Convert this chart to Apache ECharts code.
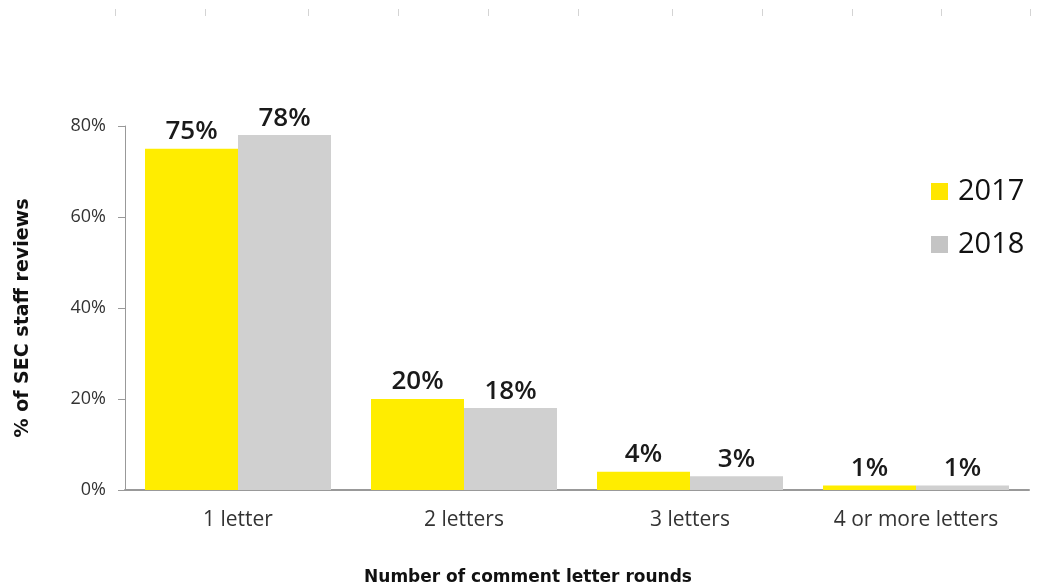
<!DOCTYPE html>
<html><head><meta charset="utf-8">
<script src="https://cdn.jsdelivr.net/npm/echarts@6/dist/echarts.min.js"></script>
<style>html,body{margin:0;padding:0;background:#fff}#c{width:1039px;height:588px}</style>
</head><body><div id="c"></div>
<script>
var categories = ['1 letter', '2 letters', '3 letters', '4 or more letters'];
var s2017 = [75, 20, 4, 1];
var s2018 = [78, 18, 3, 1];
var yTicks = [0, 20, 40, 60, 80];

var chart = echarts.init(document.getElementById('c'));
var labelStyle = {show: true, position: 'top', distance: 4, formatter: '{c}%',
  fontFamily: 'Open Sans', fontWeight: 600, fontSize: 26, color: '#1a1a1a'};
var topMarks = [115, 205, 308, 398, 488, 578, 672, 762, 852, 941, 1030].map(function (x) {
  return {type: 'line', shape: {x1: x + 0.5, y1: 9, x2: x + 0.5, y2: 16}, style: {stroke: '#d4d4d4', lineWidth: 1}, silent: true};
});
chart.setOption({
  animation: false,
  graphic: topMarks,
  grid: {left: 125, right: 10, top: 126, bottom: 98, containLabel: false, outerBoundsMode: 'none'},
  legend: {
    orient: 'vertical', left: 931, top: 177, padding: 0, itemWidth: 17, itemHeight: 17, itemGap: 24,
    icon: 'rect',
    textStyle: {fontFamily: 'Open Sans', fontSize: 29, color: '#111', padding: [0, 0, 0, 5]},
    data: [{name: '2017', itemStyle: {color: '#FFE600'}}, {name: '2018', itemStyle: {color: '#C4C4C4'}}]
  },
  xAxis: {
    type: 'category', data: categories,
    axisLine: {lineStyle: {color: '#999', width: 2}},
    axisTick: {show: false},
    axisLabel: {fontFamily: 'Open Sans', fontSize: 21, color: '#333', margin: 20},
    name: 'Number of comment letter rounds', nameLocation: 'middle', nameGap: 79,
    nameTextStyle: {fontFamily: 'DejaVu Sans', fontWeight: 'bold', fontSize: 17, color: '#111', padding: [0, 98, 0, 0]}
  },
  yAxis: {
    type: 'value', min: 0, max: 80, interval: 20,
    axisLine: {show: true, lineStyle: {color: '#999', width: 1}},
    axisTick: {show: true, length: 7, lineStyle: {color: '#999'}},
    splitLine: {show: false},
    axisLabel: {fontFamily: 'Open Sans', fontSize: 18, color: '#333', margin: 19,
      formatter: function (v) { return yTicks.indexOf(v) >= 0 ? v + '%' : ''; }},
    name: '% of SEC staff reviews', nameLocation: 'middle', nameGap: 92, nameRotate: 90,
    nameTextStyle: {fontFamily: 'DejaVu Sans', fontWeight: 'bold', fontSize: 19, color: '#111', padding: [0, 20, 0, 0]}
  },
  series: [
    {name: '2017', type: 'bar', data: s2017, barWidth: 93, barGap: '0%',
     itemStyle: {color: '#FFED00'}, label: labelStyle},
    {name: '2018', type: 'bar', data: s2018, barWidth: 93, barGap: '0%',
     itemStyle: {color: '#D0D0D0'}, label: labelStyle}
  ]
});
</script></body></html>
